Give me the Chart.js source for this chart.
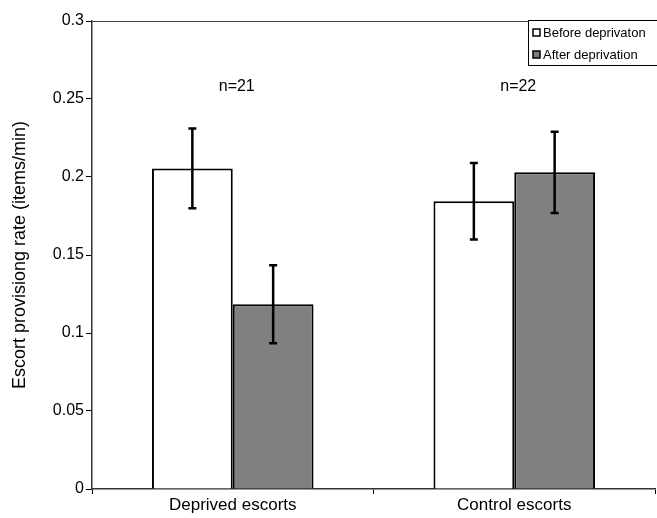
<!DOCTYPE html>
<html>
<head>
<meta charset="utf-8">
<script src="https://cdn.jsdelivr.net/npm/chart.js@4/dist/chart.umd.min.js"></script>
<style>
html,body{margin:0;padding:0;background:#fff;}
#wrap{width:657px;height:518px;position:relative;}
</style>
</head>
<body>
<div id="wrap"><canvas id="c" width="657" height="518"></canvas></div>
<script>
const categories = ["Deprived escorts", "Control escorts"];
const seriesLabels = ["Before deprivaton", "After deprivation"];
const beforeValues = [0.2055, 0.1845];
const afterValues = [0.1185, 0.2030];
const beforeErr = [0.0256, 0.0245];
const afterErr = [0.0250, 0.0260];
const groupNotes = ["n=21", "n=22"];
const yTicks = [0, 0.05, 0.1, 0.15, 0.2, 0.25, 0.3];

const errs = [beforeErr, afterErr];
const FONT = "'Liberation Sans', Arial, sans-serif";

const errorBarPlugin = {
  id: 'errorBars',
  afterDatasetsDraw(chart) {
    const ctx = chart.ctx;
    const y = chart.scales.y;
    ctx.save();
    ctx.strokeStyle = '#000';
    ctx.lineWidth = 2.5;
    chart.data.datasets.forEach((ds, di) => {
      const meta = chart.getDatasetMeta(di);
      meta.data.forEach((bar, i) => {
        const v = ds.data[i], e = errs[di][i];
        const x = bar.x;
        const yt = y.getPixelForValue(v + e);
        const yb = y.getPixelForValue(v - e);
        ctx.beginPath();
        ctx.moveTo(x, yt); ctx.lineTo(x, yb);
        ctx.moveTo(x - 4, yt); ctx.lineTo(x + 4, yt);
        ctx.moveTo(x - 4, yb); ctx.lineTo(x + 4, yb);
        ctx.stroke();
      });
    });
    // group notes
    ctx.fillStyle = '#000';
    ctx.font = "16px " + FONT;
    ctx.textAlign = 'center';
    ctx.textBaseline = 'middle';
    const xs = chart.scales.x;
    groupNotes.forEach((t, i) => {
      ctx.fillText(t, xs.getPixelForValue(i) + 4, y.getPixelForValue(0.258));
    });
    // top border
    const a = chart.chartArea;
    ctx.strokeStyle = '#444';
    ctx.lineWidth = 1.2;
    ctx.beginPath();
    ctx.moveTo(a.left, a.top + 0.5); ctx.lineTo(a.right + 2, a.top + 0.5);
    ctx.stroke();
    // legend
    const lx = 528, ly = 20, lw = 129, lh = 45;
    ctx.fillStyle = '#fff';
    ctx.fillRect(lx, ly, lw, lh);
    ctx.strokeStyle = '#000';
    ctx.lineWidth = 1;
    ctx.strokeRect(lx + 0.5, ly + 0.5, lw, lh);
    ctx.font = "13px " + FONT;
    ctx.textAlign = 'left';
    const colors = ['#ffffff', '#808080'];
    [33, 55].forEach((cy, k) => {
      ctx.fillStyle = colors[k];
      ctx.fillRect(533, cy - 4, 7, 7);
      ctx.strokeStyle = '#000';
      ctx.lineWidth = 1.5;
      ctx.strokeRect(533, cy - 4, 7, 7);
      ctx.fillStyle = '#000';
      ctx.fillText(seriesLabels[k], 543, cy);
    });
    ctx.restore();
  }
};

new Chart(document.getElementById('c'), {
  type: 'bar',
  data: {
    labels: categories,
    datasets: [
      { label: seriesLabels[0], data: beforeValues, backgroundColor: '#ffffff', borderColor: '#000', borderWidth: 2, categoryPercentage: 0.574, barPercentage: 1.0 },
      { label: seriesLabels[1], data: afterValues, backgroundColor: '#808080', borderColor: '#000', borderWidth: 2, categoryPercentage: 0.574, barPercentage: 1.0 }
    ]
  },
  options: {
    responsive: false,
    animation: false,
    layout: { padding: { left: 0, right: 2, top: 21, bottom: 0 } },
    plugins: { legend: { display: false }, tooltip: { enabled: false } },
    scales: {
      x: {
        afterFit: s => { s.height = 29; },
        grid: { offset: true, drawOnChartArea: false, color: '#000', tickLength: 5, lineWidth: 1 },
        border: { color: '#333', width: 1.5 },
        ticks: { color: '#000', font: { family: FONT, size: 17 }, padding: 1 }
      },
      y: {
        min: 0, max: 0.3,
        afterFit: s => { s.width = 92; },
        afterBuildTicks: s => { s.ticks = yTicks.map(v => ({ value: v })); },
        grid: { drawOnChartArea: false, color: '#000', tickLength: 6, lineWidth: 1 },
        border: { color: '#333', width: 1.5 },
        ticks: { color: '#000', font: { family: FONT, size: 16 }, padding: 2, callback: v => String(v) },
        title: { display: true, text: 'Escort provisiong rate (items/min)', color: '#000', font: { family: FONT, size: 18 }, padding: { top: 9, bottom: 4 } }
      }
    }
  },
  plugins: [errorBarPlugin]
});
</script>
</body>
</html>
